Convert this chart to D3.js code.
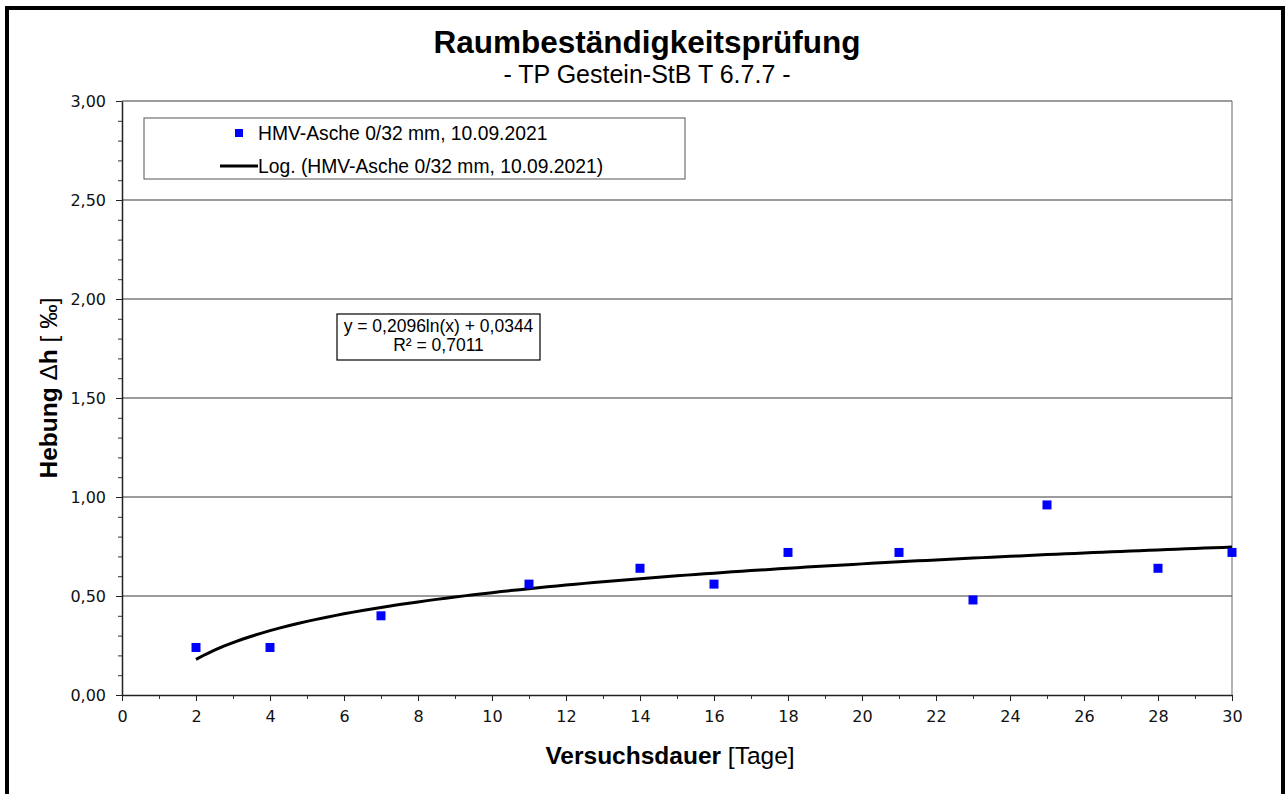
<!DOCTYPE html>
<html>
<head>
<meta charset="utf-8">
<script src="https://cdn.jsdelivr.net/npm/d3@7"></script>
<style>
  body { margin: 0; background: #fff; }
  svg { display: block; font-family: Arial, "Liberation Sans", sans-serif; }
  .tick-label { font-family: "DejaVu Sans", Verdana, sans-serif; font-size: 16px; }
</style>
</head>
<body>
<svg id="chart" width="1285" height="794"></svg>
<script>
const WIDTH = 1285
const HEIGHT = 794

// measured days and heave values (per mille)
const days = [2, 4, 7, 11, 14, 16, 18, 21, 23, 25, 28, 30]
const heave = [0.24, 0.24, 0.40, 0.56, 0.64, 0.56, 0.72, 0.72, 0.48, 0.96, 0.64, 0.72]

const yTicks = [0, 0.5, 1.0, 1.5, 2.0, 2.5, 3.0]
const xTicks = [0, 2, 4, 6, 8, 10, 12, 14, 16, 18, 20, 22, 24, 26, 28, 30]

const seriesName = 'HMV-Asche 0/32 mm, 10.09.2021'
const trendName = 'Log. (HMV-Asche 0/32 mm, 10.09.2021)'
const equationLines = ['y = 0,2096ln(x) + 0,0344', 'R² = 0,7011']

const margin = { top: 101, right: 53, bottom: 99, left: 122 }
const plotW = WIDTH - margin.left - margin.right
const plotH = HEIGHT - margin.top - margin.bottom

const svg = d3.select('#chart')

// outer frame, bottom edge runs off the picture
svg.append('rect')
  .attr('x', 7).attr('y', 8)
  .attr('width', 1276).attr('height', 820)
  .attr('fill', 'none').attr('stroke', '#000').attr('stroke-width', 4)

svg.append('text')
  .attr('x', 647).attr('y', 53)
  .attr('text-anchor', 'middle')
  .attr('font-size', 31.5).attr('font-weight', 'bold')
  .text('Raumbeständigkeitsprüfung')

svg.append('text')
  .attr('x', 647).attr('y', 83)
  .attr('text-anchor', 'middle')
  .attr('font-size', 25)
  .text('- TP Gestein-StB T 6.7.7 -')

const g = svg.append('g').attr('transform', `translate(${margin.left},${margin.top})`)

const x = d3.scaleLinear().domain([0, 30]).range([0, plotW])
const y = d3.scaleLinear().domain([0, 3]).range([plotH, 0])

const fmt = d => d3.format('.2f')(d).replace('.', ',')

// grid
g.selectAll('.grid')
  .data(yTicks.filter(d => d > 0))
  .join('line')
  .attr('x1', 0).attr('x2', plotW)
  .attr('y1', d => y(d)).attr('y2', d => y(d))
  .attr('stroke', '#3a3a3a').attr('stroke-width', 1.1)

g.append('line')
  .attr('x1', plotW).attr('x2', plotW)
  .attr('y1', 0).attr('y2', plotH)
  .attr('stroke', '#666').attr('stroke-width', 1)

// minor ticks
const yMinor = d3.range(0, 31).map(i => i / 10)
g.append('g')
  .call(d3.axisLeft(y).tickValues(yMinor).tickSize(4).tickFormat(''))
  .call(a => a.select('.domain').remove())
  .call(a => a.selectAll('line').attr('stroke', '#333'))

const xMinor = d3.range(0, 31)
g.append('g')
  .attr('transform', `translate(0,${plotH})`)
  .call(d3.axisBottom(x).tickValues(xMinor).tickSize(4).tickFormat(''))
  .call(a => a.select('.domain').remove())
  .call(a => a.selectAll('line').attr('stroke', '#333'))

const yAxis = g.append('g')
  .call(d3.axisLeft(y).tickValues(yTicks).tickSize(6).tickSizeOuter(0).tickPadding(10).tickFormat(fmt))
yAxis.select('.domain').attr('stroke', '#222').attr('stroke-width', 1.5)
yAxis.selectAll('line').attr('stroke', '#222')
yAxis.selectAll('text').attr('class', 'tick-label').attr('fill', '#111')

const xAxis = g.append('g')
  .attr('transform', `translate(0,${plotH})`)
  .call(d3.axisBottom(x).tickValues(xTicks).tickSize(6).tickSizeOuter(0).tickPadding(10).tickFormat(d3.format('d')))
xAxis.select('.domain').attr('stroke', '#222').attr('stroke-width', 1.5)
xAxis.selectAll('line').attr('stroke', '#222')
xAxis.selectAll('text').attr('class', 'tick-label').attr('fill', '#111')

// logarithmic least-squares fit of the measured points (same as the spreadsheet trendline)
const lx = days.map(Math.log)
const mx = d3.mean(lx)
const my = d3.mean(heave)
const slope = d3.sum(lx, (v, i) => (v - mx) * (heave[i] - my)) / d3.sum(lx, v => (v - mx) ** 2)
const intercept = my - slope * mx
const trendX = d3.range(days[0], days[days.length - 1] + 0.001, 0.25)

g.append('path')
  .datum(trendX)
  .attr('fill', 'none')
  .attr('stroke', '#000')
  .attr('stroke-width', 3)
  .attr('d', d3.line().x(d => x(d)).y(d => y(slope * Math.log(d) + intercept)))

g.selectAll('.pt')
  .data(days.map((d, i) => [d, heave[i]]))
  .join('rect')
  .attr('x', d => x(d[0]) - 4.5)
  .attr('y', d => y(d[1]) - 4.5)
  .attr('width', 9).attr('height', 9)
  .attr('fill', '#0000ff')

// equation box
const eq = svg.append('g')
eq.append('rect')
  .attr('x', 337).attr('y', 314).attr('width', 203).attr('height', 46)
  .attr('fill', '#fff').attr('stroke', '#000').attr('stroke-width', 1.2)
eq.selectAll('text')
  .data(equationLines)
  .join('text')
  .attr('x', 438.5).attr('y', (d, i) => 332 + i * 19)
  .attr('text-anchor', 'middle')
  .attr('font-size', 17.5)
  .text(d => d)

// legend
const lg = svg.append('g')
lg.append('rect')
  .attr('x', 144).attr('y', 118).attr('width', 541).attr('height', 61)
  .attr('fill', '#fff').attr('stroke', '#555').attr('stroke-width', 1)
lg.append('rect')
  .attr('x', 235).attr('y', 129).attr('width', 8).attr('height', 8)
  .attr('fill', '#0000ff')
lg.append('text')
  .attr('x', 258).attr('y', 140)
  .attr('font-size', 19.3)
  .text(seriesName)
lg.append('line')
  .attr('x1', 220).attr('x2', 258).attr('y1', 166).attr('y2', 166)
  .attr('stroke', '#000').attr('stroke-width', 3)
lg.append('text')
  .attr('x', 258).attr('y', 173)
  .attr('font-size', 19.3)
  .text(trendName)

// axis titles
const xt = svg.append('text')
  .attr('x', 670).attr('y', 764)
  .attr('text-anchor', 'middle')
  .attr('font-size', 24.5)
xt.append('tspan').attr('font-weight', 'bold').text('Versuchsdauer')
xt.append('tspan').text(' [Tage]')

const yt = svg.append('text')
  .attr('transform', 'translate(57,388) rotate(-90)')
  .attr('text-anchor', 'middle')
  .attr('font-size', 24.5)
yt.append('tspan').attr('font-weight', 'bold').text('Hebung ')
yt.append('tspan').text('Δ')
yt.append('tspan').attr('font-weight', 'bold').text('h')
yt.append('tspan').text(' [ ‰]')
</script>
</body>
</html>
